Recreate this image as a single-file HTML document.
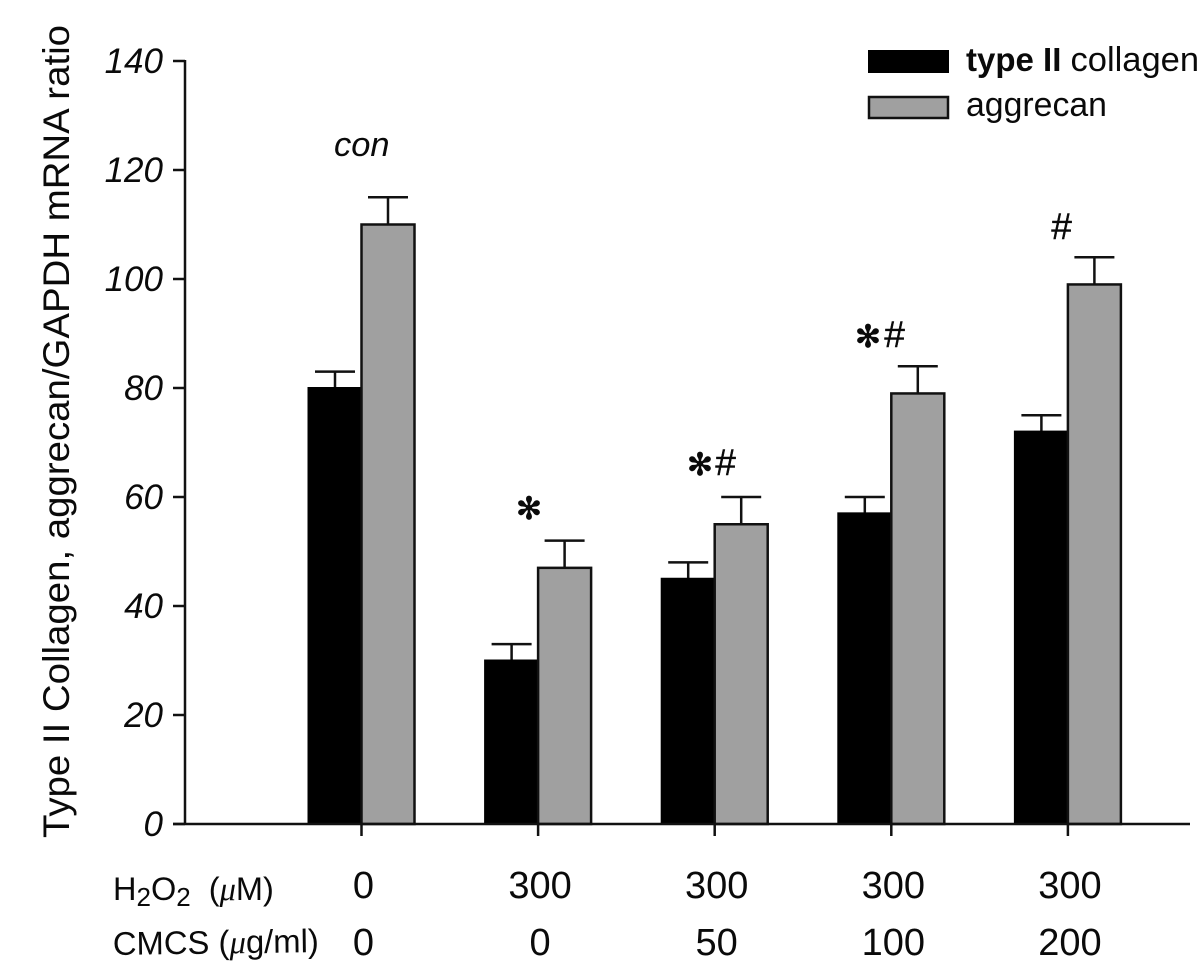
<!DOCTYPE html>
<html>
<head>
<meta charset="utf-8">
<style>
html,body{margin:0;padding:0;background:#fff;width:1201px;height:980px;overflow:hidden}
svg{display:block}
text{font-family:"Liberation Sans",sans-serif;fill:#0a0a0a}
</style>
</head>
<body>
<svg id="chart" width="1201" height="980" viewBox="0 0 1201 980" xmlns="http://www.w3.org/2000/svg">
  <g id="bars"></g>
  <g id="axes"></g>
  <text transform="translate(69,838) rotate(-90)" font-size="37" textLength="813" lengthAdjust="spacingAndGlyphs">Type II Collagen, aggrecan/GAPDH mRNA ratio</text>

  <g>
    <rect x="868" y="50" width="81" height="23" fill="#000"/>
    <text x="966" y="71" font-size="33"><tspan font-weight="bold">type II</tspan> <tspan font-size="34.5">collagen</tspan></text>
    <rect x="869" y="97" width="79" height="21" fill="#a0a0a0" stroke="#111" stroke-width="2.5"/>
    <text x="966" y="116" font-size="33.8">aggrecan</text>
  </g>

  <g>
    <text x="334" y="156" font-size="34.5" font-style="italic">con</text>
    <text x="529" y="519" font-size="31" text-anchor="middle" stroke="#0a0a0a" stroke-width="0.8" style="font-family:'DejaVu Sans',sans-serif">✻</text>
    <text x="700" y="475" font-size="31" text-anchor="middle" stroke="#0a0a0a" stroke-width="0.8" style="font-family:'DejaVu Sans',sans-serif">✻</text>
    <text x="725" y="475" font-size="37" text-anchor="middle" font-style="italic" stroke="#0a0a0a" stroke-width="0.4">#</text>
    <text x="868" y="347" font-size="31" text-anchor="middle" stroke="#0a0a0a" stroke-width="0.8" style="font-family:'DejaVu Sans',sans-serif">✻</text>
    <text x="894" y="347" font-size="37" text-anchor="middle" font-style="italic" stroke="#0a0a0a" stroke-width="0.4">#</text>
    <text x="1061" y="239" font-size="37" text-anchor="middle" font-style="italic" stroke="#0a0a0a" stroke-width="0.4">#</text>
  </g>

  <g>
    <text x="113" y="900" font-size="32.5">H<tspan font-size="26" dy="6">2</tspan><tspan dy="-6">O</tspan><tspan font-size="26" dy="6">2</tspan><tspan dy="-6" xml:space="preserve">  (</tspan><tspan font-family="Liberation Serif" font-style="italic">μ</tspan>M)</text>
    <text x="113" y="955" font-size="32.8" transform="rotate(-0.8 113 955)">CMCS (<tspan font-family="Liberation Serif" font-style="italic">μ</tspan>g/ml)</text>
  </g>
  <g id="rows"></g>
</svg>
<script>
const categories = ["con", "300-0", "300-50", "300-100", "300-200"];
const collagenValues = [80, 30, 45, 57, 72];
const collagenErrors = [3, 3, 3, 3, 3];
const aggrecanValues = [110, 47, 55, 79, 99];
const aggrecanErrors = [5, 5, 5, 5, 5];
const yTickLabels = [0, 20, 40, 60, 80, 100, 120, 140];
const h2o2Labels = ["0", "300", "300", "300", "300"];
const cmcsLabels = ["0", "0", "50", "100", "200"];

const NS = "http://www.w3.org/2000/svg";
const y = v => 824 - v * (763 / 140);
const x = i => 361.5 + i * 176.6;
const BAR = 53;
const barsG = document.getElementById("bars");
const axesG = document.getElementById("axes");
const rowsG = document.getElementById("rows");

function make(tag, parent, attrs) {
  const el = document.createElementNS(NS, tag);
  for (const k in attrs) el.setAttribute(k, attrs[k]);
  parent.appendChild(el);
  return el;
}

function errorBar(cx, value, err, name) {
  const g = make("g", barsG, {stroke: "#111", "stroke-width": 2.5, fill: "none"});
  
  
  make("line", g, {x1: cx, x2: cx, y1: y(value), y2: y(value + err)});
  make("line", g, {x1: cx - 20, x2: cx + 20, y1: y(value + err), y2: y(value + err)});
}

categories.forEach((c, i) => {
  const cx = x(i);
  errorBar(cx - BAR / 2, collagenValues[i], collagenErrors[i], "error-bar-collagen-" + c);
  errorBar(cx + BAR / 2, aggrecanValues[i], aggrecanErrors[i], "error-bar-aggrecan-" + c);

  const b1 = make("rect", barsG, {x: cx - BAR, y: y(collagenValues[i]), width: BAR, height: 824 - y(collagenValues[i]), fill: "#000", stroke: "#000", "stroke-width": 2});
  
  

  const b2 = make("rect", barsG, {x: cx, y: y(aggrecanValues[i]), width: BAR, height: 824 - y(aggrecanValues[i]), fill: "#a0a0a0", stroke: "#111", "stroke-width": 2.5});
  
  

  const t = make("line", axesG, {x1: cx, x2: cx, y1: 824, y2: 836, stroke: "#111", "stroke-width": 2.5});
  
  

  const l1 = make("text", rowsG, {x: cx + 2, y: 898, "font-size": 38, "text-anchor": "middle"});
  l1.textContent = h2o2Labels[i];
  
  

  const l2 = make("text", rowsG, {x: cx + 2, y: 955, "font-size": 38, "text-anchor": "middle"});
  l2.textContent = cmcsLabels[i];
  
  
});

const yAxis = make("line", axesG, {x1: 185, x2: 185, y1: y(140) - 1, y2: 825, stroke: "#111", "stroke-width": 2.5});



const xAxis = make("line", axesG, {x1: 173, x2: 1190, y1: 824, y2: 824, stroke: "#111", "stroke-width": 2.5});



yTickLabels.forEach(v => {
  const t = make("line", axesG, {x1: 173, x2: 185, y1: y(v), y2: y(v), stroke: "#111", "stroke-width": 2.5});
  
  
  const l = make("text", axesG, {x: 163, y: y(v) + 12, "font-size": 35, "font-style": "italic", "text-anchor": "end"});
  l.textContent = v;
  
  
});
</script>
</body>
</html>
